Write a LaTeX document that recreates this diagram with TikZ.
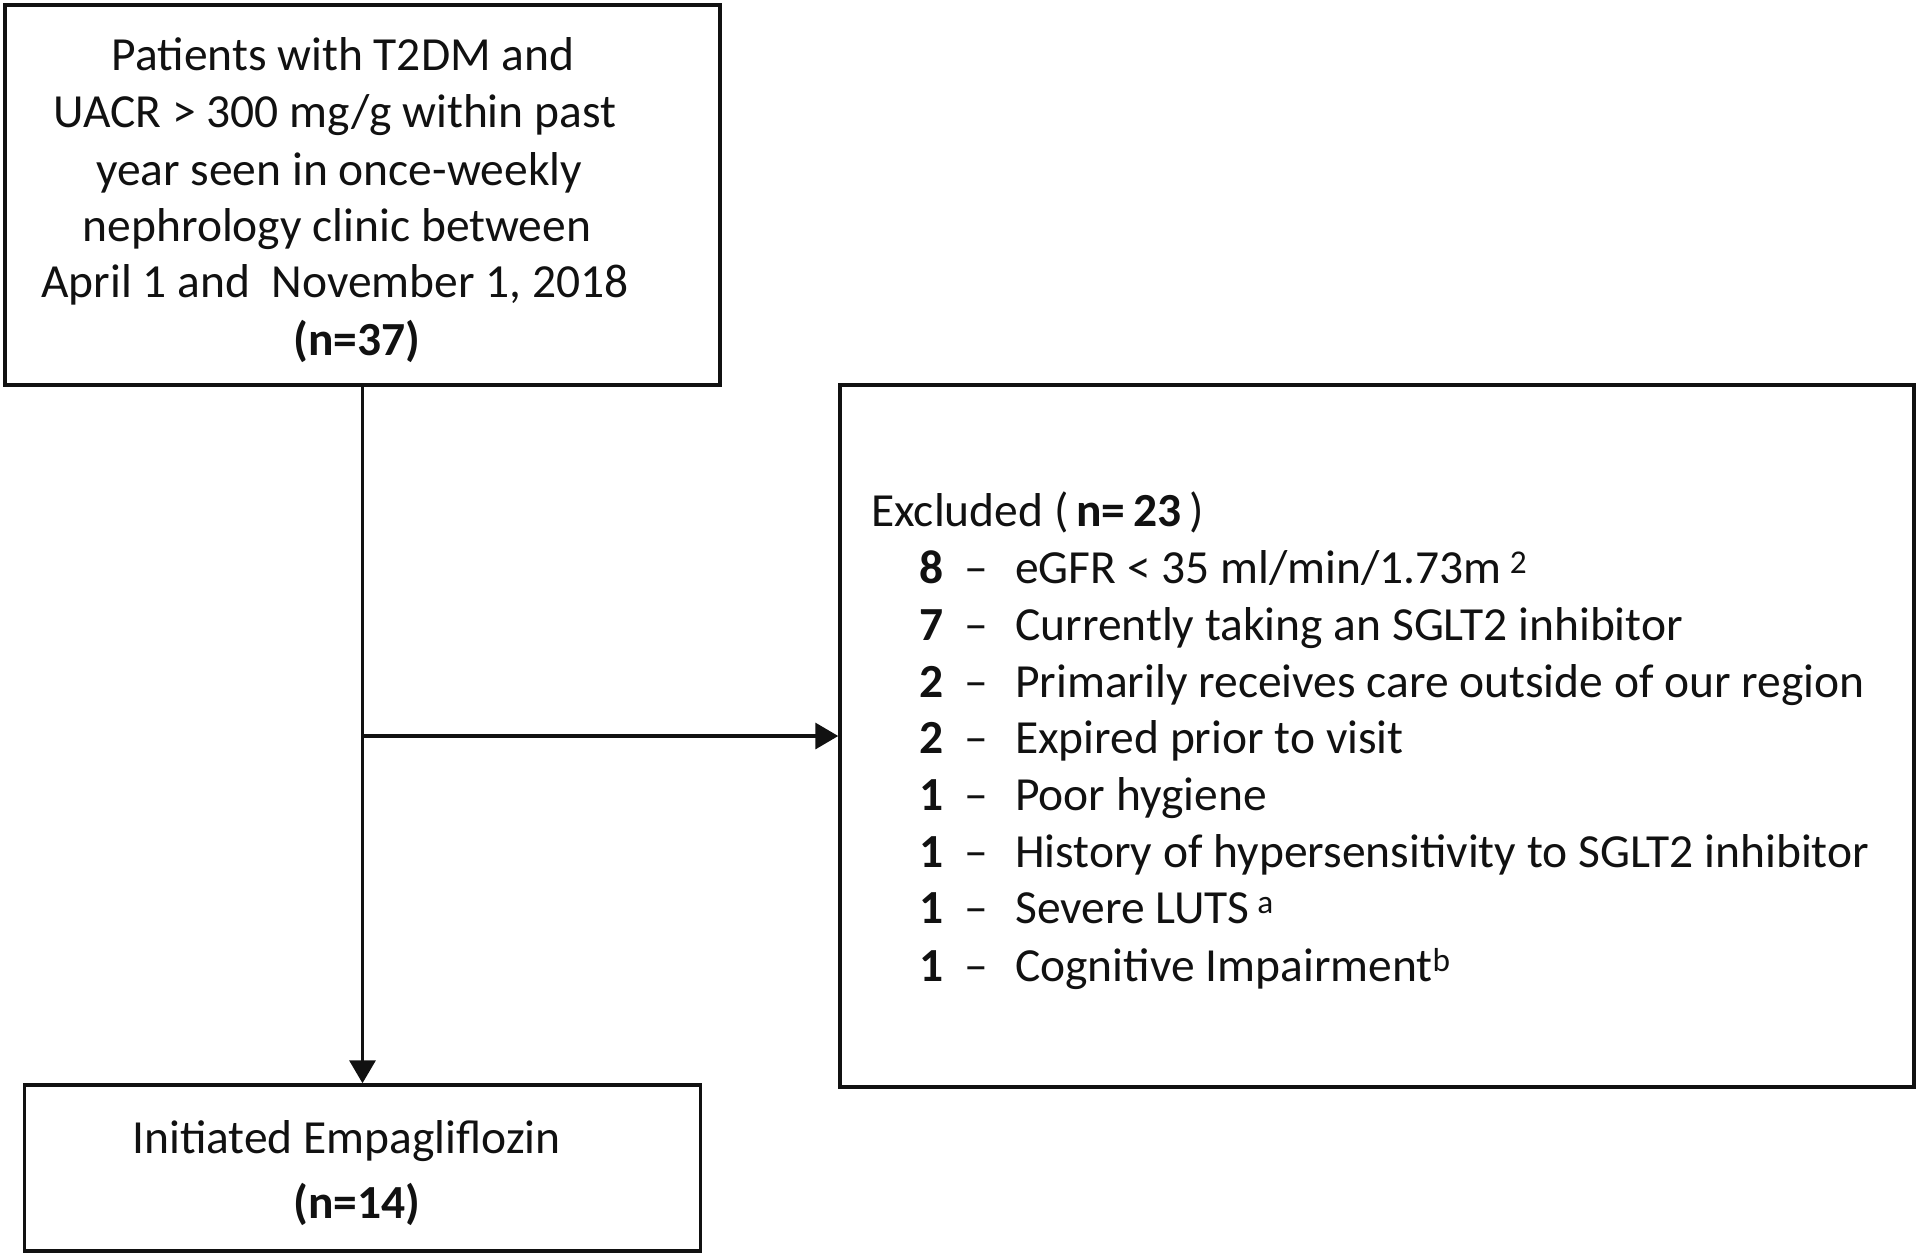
\documentclass[tikz,border=0pt]{standalone}
\usepackage{fontspec}
\setmainfont{Carlito}
\usetikzlibrary{arrows.meta}
\definecolor{ink}{HTML}{111111}
\tikzset{
  boxnode/.style={draw=ink, line width=3.5pt, inner sep=0pt, rectangle},
  txt/.style={anchor=base, inner sep=0pt, text=ink, font=\fontsize{47.5}{57}\selectfont},
  txtw/.style={anchor=base west, inner sep=0pt, text=ink, font=\fontsize{47.5}{57}\selectfont},
  nume/.style={anchor=base east, inner sep=0pt, text=ink, font=\fontsize{47.5}{57}\selectfont\bfseries},
  arr/.style={draw=ink, line width=3.5pt, -{Triangle[length=23pt,width=26pt]}}
}
\begin{document}
\begin{tikzpicture}[x=1pt,y=-1pt]
\useasboundingbox (0,0) rectangle (1920,1259);
% boxes
\node[boxnode, minimum width=715pt, minimum height=380pt] (top) at (362.5,195) {};
\node[boxnode, minimum width=1074pt, minimum height=702pt] (excl) at (1377,736) {};
\node[boxnode, minimum width=676pt, minimum height=166pt] (bot) at (362.5,1168) {};
% top text
\node[txt] (t1) at (343,70) {Patients with T2DM and};
\node[txt] (t2) at (335,127) {UACR > 300 mg/g within past};
\node[txt] (t3) at (339,185) {year seen in once-weekly};
\node[txt] (t4) at (337,241) {nephrology clinic between};
\node[txt] (t5) at (335,297) {April 1 and\ \ November 1, 2018};
\node[txt] (t6) at (357,355) {\bfseries (n=37)};
% bottom text
\node[txt] (b1) at (346.5,1153) {Initiated Empagliflozin};
\node[txt] (b2) at (357,1218) {\bfseries (n=14)};
% excluded text
\node[txtw] (e0) at (871,526) {Excluded (\,\textbf{n=\,23}\,)};
\foreach \n/\num/\t [count=\i] in {
  583/8/{eGFR < 35 ml/min/1.73m\,\textsuperscript{2}},
  640/7/{Currently taking an SGLT2 inhibitor},
  697/2/{Primarily receives care outside of our region},
  753/2/{Expired prior to visit},
  810/1/{Poor hygiene},
  867/1/{History of hypersensitivity to SGLT2 inhibitor},
  923/1/{Severe LUTS\,\textsuperscript{a}},
  981/1/{Cognitive Impairment\textsuperscript{b}}}{
  \node[nume] (n\i) at (944,\n) {\num};
  \node[txtw] (d\i) at (964,\n) {–};
  \node[txtw] (l\i) at (1015,\n) {\t};
}
% connectors
\draw[arr] (top.south) -- (bot.north);
\coordinate (j) at (top.south |- excl.west);
\draw[arr] (j) -- (excl.west);
\end{tikzpicture}
\end{document}
